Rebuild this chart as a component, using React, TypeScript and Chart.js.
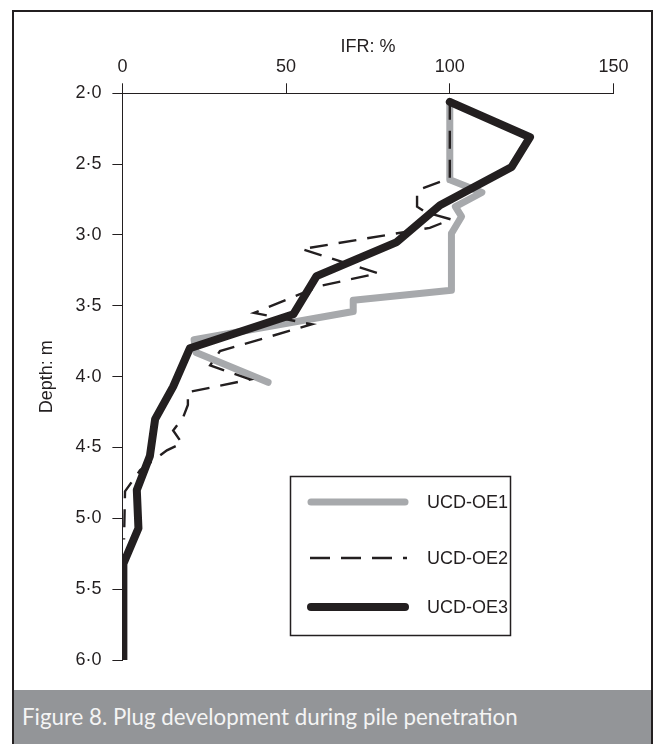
import React, { useEffect, useRef } from "react";
import { Chart, registerables } from "chart.js";

Chart.register(...registerables);

// ---------- data ----------
const seriesNames = ["UCD-OE1", "UCD-OE2", "UCD-OE3"];

const xTickValues = [0, 50, 100, 150];
const yTickValues = [2.0, 2.5, 3.0, 3.5, 4.0, 4.5, 5.0, 5.5, 6.0];

// UCD-OE1 (grey)
const oe1Ifr = [100, 100, 109.8, 101.7, 103.6, 100.5, 100.5, 70.5, 70.5, 21.9, 22.5, 44.5];
const oe1Depth = [2.06, 2.61, 2.70, 2.80, 2.87, 2.99, 3.39, 3.46, 3.54, 3.74, 3.83, 4.04];

// UCD-OE2 (dashed)
const oe2Ifr = [100, 100, 90.6, 90.0, 90.0, 92.7, 100.4, 93.9, 54.8, 78.1, 60.4, 40.2, 57.9, 29.8, 26.8, 39.0, 20.0, 20.0, 18.5, 15.5, 18.2, 13.6, 5.4, 0.8, 0.5];
const oe2Depth = [2.06, 2.60, 2.68, 2.70, 2.80, 2.84, 2.89, 2.95, 3.10, 3.27, 3.36, 3.55, 3.63, 3.82, 3.92, 4.02, 4.11, 4.20, 4.29, 4.38, 4.47, 4.52, 4.66, 4.81, 5.15];

// UCD-OE3 (thick black)
const oe3Ifr = [100, 124.5, 118.9, 97.0, 83.8, 59.3, 52.2, 20.6, 15.5, 10.0, 8.4, 4.4, 4.9, 0.3, 0.3];
const oe3Depth = [2.06, 2.31, 2.52, 2.79, 3.05, 3.29, 3.56, 3.80, 4.07, 4.30, 4.56, 4.80, 5.07, 5.32, 6.0];

// ---------- styles ----------
const INK = "#231f20";
const GREY = "#a7a9ac";
const FONT = "'Liberation Sans', Arial, sans-serif";
const TICK_SIZE = 18;

const toPoints = (xs: number[], ys: number[]) => xs.map((x, i) => ({ x, y: ys[i] }));

const legendPlugin = {
  id: "boxLegend",
  afterDraw(chart: any) {
    const ctx = chart.ctx as CanvasRenderingContext2D;
    ctx.save();
    ctx.strokeStyle = INK;
    ctx.lineWidth = 1.5;
    ctx.strokeRect(290.5, 476.5, 220, 159);
    const rows = [502, 558, 607];
    chart.data.datasets.forEach((ds: any, i: number) => {
      const y = rows[i];
      ctx.beginPath();
      ctx.strokeStyle = ds.borderColor;
      ctx.lineWidth = ds.borderWidth;
      if (ds.borderDash && ds.borderDash.length) {
        ctx.setLineDash([20, 11]);
        ctx.lineCap = "butt";
        ctx.moveTo(310, y);
        ctx.lineTo(407, y);
      } else {
        ctx.setLineDash([]);
        ctx.lineCap = "round";
        ctx.moveTo(311, y);
        ctx.lineTo(405, y);
      }
      ctx.stroke();
      ctx.setLineDash([]);
      ctx.fillStyle = INK;
      ctx.font = `${TICK_SIZE}px ${FONT}`;
      ctx.textAlign = "left";
      ctx.textBaseline = "middle";
      ctx.fillText(ds.label, 427, y + 1);
    });
    ctx.restore();
  },
};

function FigureChart() {
  const ref = useRef<HTMLCanvasElement | null>(null);
  useEffect(() => {
    if (!ref.current) return;
    const chart = new Chart(ref.current, {
      type: "scatter",
      data: {
        datasets: [
          {
            label: seriesNames[0],
            data: toPoints(oe1Ifr, oe1Depth),
            showLine: true,
            borderColor: GREY,
            backgroundColor: GREY,
            borderWidth: 7,
            borderCapStyle: "round",
            borderJoinStyle: "round",
            pointRadius: 0,
            tension: 0,
            order: 3,
          },
          {
            label: seriesNames[1],
            data: toPoints(oe2Ifr, oe2Depth),
            showLine: true,
            borderColor: INK,
            backgroundColor: INK,
            borderWidth: 2.4,
            borderDash: [18, 11],
            borderCapStyle: "butt",
            borderJoinStyle: "miter",
            pointRadius: 0,
            tension: 0,
            order: 2,
          },
          {
            label: seriesNames[2],
            data: toPoints(oe3Ifr, oe3Depth),
            showLine: true,
            borderColor: INK,
            backgroundColor: INK,
            borderWidth: 8,
            borderCapStyle: "round",
            borderJoinStyle: "round",
            pointRadius: 0,
            tension: 0,
            order: 1,
          },
        ],
      } as any,
      options: {
        animation: false,
        responsive: false,
        devicePixelRatio: 1,
        layout: { padding: { left: 36.2, top: 36.2, right: 41.5, bottom: 30 } },
        plugins: { legend: { display: false }, tooltip: { enabled: false } },
        scales: {
          x: {
            type: "linear",
            position: "top",
            min: 0,
            max: 150,
            afterBuildTicks: (s: any) => {
              s.ticks = xTickValues.map((v) => ({ value: v }));
            },
            afterFit: (s: any) => {
              s.height = 57.1;
            },
            ticks: {
              color: INK,
              padding: 5.5,
              font: { family: FONT, size: TICK_SIZE },
              callback: (v: any) => String(v),
            },
            grid: {
              drawOnChartArea: false,
              drawTicks: true,
              tickLength: 10,
              color: INK,
              lineWidth: 1,
            },
            border: { display: true, color: INK, width: 1 },
            title: {
              display: true,
              text: "IFR: %",
              color: INK,
              padding: 0,
              font: { family: FONT, size: TICK_SIZE },
            },
          },
          y: {
            type: "linear",
            reverse: true,
            min: 2,
            max: 6,
            afterBuildTicks: (s: any) => {
              s.ticks = yTickValues.map((v) => ({ value: v }));
            },
            afterFit: (s: any) => {
              s.width = 86.2;
            },
            ticks: {
              color: INK,
              padding: 11,
              font: { family: FONT, size: TICK_SIZE },
              callback: (v: any) => Number(v).toFixed(1).replace(".", "\u00b7"),
            },
            grid: {
              drawOnChartArea: false,
              drawTicks: true,
              tickLength: 10,
              color: INK,
              lineWidth: 1,
            },
            border: { display: true, color: INK, width: 1 },
            title: {
              display: true,
              text: "Depth: m",
              color: INK,
              padding: 0,
              font: { family: FONT, size: TICK_SIZE },
            },
          },
        },
      } as any,
      plugins: [legendPlugin],
    });
    return () => chart.destroy();
  }, []);
  return (
    <canvas
      ref={ref}
      width={655}
      height={690}
      style={{ position: "absolute", left: 0, top: 0, width: 655, height: 690 }}
    />
  );
}

export default function App() {
  return (
    <div
      style={{
        position: "absolute",
        left: 0,
        top: 0,
        width: 655,
        height: 744,
        overflow: "hidden",
        background: "#ffffff",
      }}
    >
      <div
        style={{
          position: "absolute",
          left: 12,
          top: 10,
          width: 641,
          height: 760,
          border: `2px solid ${INK}`,
          boxSizing: "border-box",
        }}
      />
      <FigureChart />
      <div
        style={{
          position: "absolute",
          left: 14,
          top: 690,
          width: 637,
          height: 60,
          background: "#939598",
        }}
      >
        <div
          style={{
            position: "absolute",
            left: 8,
            top: 13,
            color: "#f4f4f4",
            fontFamily: "Lato, 'Open Sans', sans-serif",
            fontSize: 22.3,
            lineHeight: "27px",
            whiteSpace: "nowrap",
          }}
        >
          Figure 8. Plug development during pile penetration
        </div>
      </div>
    </div>
  );
}
